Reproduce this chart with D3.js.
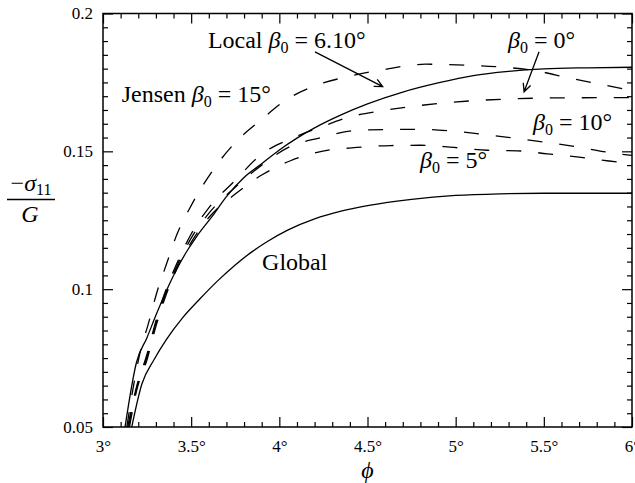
<!DOCTYPE html>
<html>
<head>
<meta charset="utf-8">
<script src="https://cdn.jsdelivr.net/npm/d3@7"></script>
<style>
  html, body { margin: 0; padding: 0; background: #fff; }
  svg { display: block; }
</style>
</head>
<body>
<svg id="chart" width="635" height="483"></svg>
<script>
// Friction angle phi (degrees) against normalised stress -sigma11 / G
const xTicks = [3, 3.5, 4, 4.5, 5, 5.5, 6];
const xTickLabels = ["3°", "3.5°", "4°", "4.5°", "5°", "5.5°", "6°"];
const yTicks = [0.05, 0.1, 0.15, 0.2];
const yTickLabels = ["0.05", "0.1", "0.15", "0.2"];

// Solid curves
const localPhi   = [3.125, 3.19, 3.25, 3.3, 3.36, 3.42, 3.48, 3.53, 3.62, 3.7, 3.8, 3.9, 4.0, 4.1, 4.2, 4.35, 4.5, 4.7, 4.9, 5.1, 5.3, 5.5, 5.75, 6.0];
const localSig   = [0.05, 0.0735, 0.0825, 0.0905, 0.0995, 0.1075, 0.1142, 0.119, 0.1265, 0.1336, 0.1405, 0.1455, 0.1505, 0.1548, 0.1585, 0.1632, 0.1672, 0.1715, 0.1748, 0.1775, 0.1790, 0.1799, 0.1803, 0.1805];
const globalPhi  = [3.163, 3.22, 3.29, 3.36, 3.45, 3.55, 3.65, 3.75, 3.85, 3.93, 4.05, 4.2, 4.35, 4.5, 4.75, 5.0, 5.25, 5.5, 5.75, 6.0];
const globalSig  = [0.05, 0.0655, 0.0745, 0.0818, 0.0895, 0.0965, 0.1030, 0.1088, 0.1138, 0.1172, 0.1215, 0.1255, 0.1283, 0.1303, 0.1326, 0.1340, 0.1346, 0.1348, 0.1348, 0.1348];

// Dashed curves
const jensenPhi  = [3.135, 3.176, 3.21, 3.257, 3.305, 3.36, 3.42, 3.5, 3.616, 3.758, 3.896, 4.04, 4.19, 4.38, 4.58, 4.83, 5.05, 5.25, 5.43, 5.65, 5.83, 6.0];
const jensenSig  = [0.05, 0.066, 0.077, 0.0874, 0.0987, 0.1091, 0.12, 0.1303, 0.1425, 0.1537, 0.1614, 0.1687, 0.1735, 0.177, 0.1795, 0.1816, 0.1813, 0.1806, 0.1795, 0.1765, 0.1742, 0.172];
const beta0Phi   = [3.14, 3.19, 3.25, 3.3, 3.35, 3.42, 3.5, 3.6, 3.75, 3.9, 4.06, 4.24, 4.4, 4.58, 4.91, 5.3, 5.6, 6.0];
const beta0Sig   = [0.05, 0.0645, 0.0765, 0.0885, 0.0985, 0.1095, 0.12, 0.1295, 0.1395, 0.149, 0.1544, 0.1589, 0.1625, 0.1647, 0.1674, 0.169, 0.1694, 0.1695];
const beta10Phi  = [3.145, 3.19, 3.25, 3.3, 3.35, 3.42, 3.5, 3.6, 3.75, 3.9, 4.06, 4.24, 4.42, 4.61, 4.79, 4.97, 5.15, 5.33, 5.52, 5.69, 5.88, 6.0];
const beta10Sig  = [0.05, 0.0638, 0.0755, 0.0875, 0.0975, 0.1085, 0.1185, 0.1275, 0.137, 0.145, 0.1517, 0.155, 0.1575, 0.1579, 0.158, 0.1574, 0.1562, 0.1548, 0.1532, 0.1516, 0.1495, 0.1485];
const beta5Phi   = [3.15, 3.19, 3.25, 3.3, 3.35, 3.42, 3.5, 3.6, 3.75, 3.9, 4.06, 4.24, 4.44, 4.63, 4.8, 4.99, 5.18, 5.35, 5.52, 5.7, 5.87, 6.0];
const beta5Sig   = [0.05, 0.063, 0.0745, 0.0865, 0.0965, 0.1075, 0.117, 0.126, 0.1345, 0.1414, 0.1465, 0.15, 0.1514, 0.1521, 0.1522, 0.1514, 0.1504, 0.1502, 0.1491, 0.1479, 0.1465, 0.1455];

const series = [
  { phi: localPhi,  sig: localSig,  dashed: false },
  { phi: globalPhi, sig: globalSig, dashed: false },
  { phi: jensenPhi, sig: jensenSig, dashed: true },
  { phi: beta0Phi,  sig: beta0Sig,  dashed: true },
  { phi: beta10Phi, sig: beta10Sig, dashed: true },
  { phi: beta5Phi,  sig: beta5Sig,  dashed: true }
];

const FONT = '"Liberation Serif"';
const svg = d3.select("#chart");
const x = d3.scaleLinear().domain([3, 6]).range([103, 632]);
const y = d3.scaleLinear().domain([0.05, 0.2]).range([427, 13.5]);

const minorX = d3.range(30, 61).map(v => v / 10).filter(v => !xTicks.some(t => Math.abs(t - v) < 1e-9));
const minorY = d3.range(10, 41).map(v => v * 0.005).filter(v => !yTicks.some(t => Math.abs(t - v) < 1e-9));

function styleAxis(g) {
  g.select(".domain").remove();
  g.selectAll(".tick line").attr("stroke", "#000").attr("stroke-width", 1.2);
  g.selectAll("text").style("font-family", FONT).attr("font-size", 17).attr("fill", "#000");
}

// Major and minor ticks on all four sides, pointing inward
const yBottom = y(0.05), yTop = y(0.2), xLeft = x(3), xRight = x(6);

svg.append("g").attr("transform", `translate(0,${yBottom})`)
  .call(d3.axisBottom(x).tickValues(xTicks).tickSizeInner(-10).tickSizeOuter(0).tickPadding(13)
    .tickFormat((d, i) => xTickLabels[i]))
  .call(styleAxis);
svg.append("g").attr("transform", `translate(0,${yBottom})`)
  .call(d3.axisBottom(x).tickValues(minorX).tickSizeInner(-5).tickSizeOuter(0).tickFormat(""))
  .call(styleAxis);
svg.append("g").attr("transform", `translate(0,${yTop})`)
  .call(d3.axisTop(x).tickValues(xTicks).tickSizeInner(-10).tickSizeOuter(0).tickFormat(""))
  .call(styleAxis);
svg.append("g").attr("transform", `translate(0,${yTop})`)
  .call(d3.axisTop(x).tickValues(minorX).tickSizeInner(-5).tickSizeOuter(0).tickFormat(""))
  .call(styleAxis);

svg.append("g").attr("transform", `translate(${xLeft},0)`)
  .call(d3.axisLeft(y).tickValues(yTicks).tickSizeInner(-10).tickSizeOuter(0).tickPadding(10)
    .tickFormat((d, i) => yTickLabels[i]))
  .call(styleAxis);
svg.append("g").attr("transform", `translate(${xLeft},0)`)
  .call(d3.axisLeft(y).tickValues(minorY).tickSizeInner(-5).tickSizeOuter(0).tickFormat(""))
  .call(styleAxis);
svg.append("g").attr("transform", `translate(${xRight},0)`)
  .call(d3.axisRight(y).tickValues(yTicks).tickSizeInner(-10).tickSizeOuter(0).tickFormat(""))
  .call(styleAxis);
svg.append("g").attr("transform", `translate(${xRight},0)`)
  .call(d3.axisRight(y).tickValues(minorY).tickSizeInner(-5).tickSizeOuter(0).tickFormat(""))
  .call(styleAxis);

// Plot frame
svg.append("rect")
  .attr("x", xLeft).attr("y", yTop)
  .attr("width", xRight - xLeft).attr("height", yBottom - yTop)
  .attr("fill", "none").attr("stroke", "#000").attr("stroke-width", 1.5);

// Curves
svg.append("clipPath").attr("id", "plotClip")
  .append("rect").attr("x", xLeft).attr("y", yTop).attr("width", xRight - xLeft).attr("height", yBottom - yTop);

const line = d3.line().x(d => x(d[0])).y(d => y(d[1])).curve(d3.curveMonotoneX);
const curves = svg.append("g").attr("clip-path", "url(#plotClip)");
series.forEach(s => {
  curves.append("path")
    .datum(s.phi.map((p, i) => [p, s.sig[i]]))
    .attr("d", line)
    .attr("fill", "none")
    .attr("stroke", "#000")
    .attr("stroke-width", 1.3)
    .attr("stroke-dasharray", s.dashed ? "15,17" : null);
});

// Annotations: beta_0 labels written as "β" with a subscript 0
const ann = svg.append("g");
function addText(g, px, py) {
  return g.append("text").attr("x", px).attr("y", py)
    .style("font-family", FONT).attr("font-size", 24).attr("fill", "#000");
}
function betaLabel(px, py, prefix, rest) {
  const t = addText(ann, x(px), y(py));
  if (prefix) t.append("tspan").text(prefix + " ");
  t.append("tspan").attr("font-style", "italic").text("β");
  t.append("tspan").attr("font-size", 16).attr("dy", 5).text("0");
  t.append("tspan").attr("dy", -5).text(" = " + rest);
  return t;
}
betaLabel(3.595, 0.1875, "Local", "6.10°");
betaLabel(3.106, 0.168, "Jensen", "15°");
betaLabel(5.297, 0.1875, "", "0°");
betaLabel(5.439, 0.1578, "", "10°");
betaLabel(4.798, 0.144, "", "5°");
addText(ann, x(3.902), y(0.107)).text("Global");

// Arrows with open heads
function arrow(x0, y0, x1, y1) {
  const ax = x(x0), ay = y(y0), bx = x(x1), by = y(y1);
  const ang = Math.atan2(by - ay, bx - ax);
  const len = 9, spread = 0.45;
  const p1 = [bx - len * Math.cos(ang - spread), by - len * Math.sin(ang - spread)];
  const p2 = [bx - len * Math.cos(ang + spread), by - len * Math.sin(ang + spread)];
  ann.append("path")
    .attr("d", `M${ax},${ay}L${bx},${by}M${p1[0]},${p1[1]}L${bx},${by}L${p2[0]},${p2[1]}`)
    .attr("fill", "none").attr("stroke", "#000").attr("stroke-width", 1.3);
}
arrow(4.202, 0.1861, 4.586, 0.1735);
arrow(5.473, 0.1861, 5.388, 0.1716);

// Axis titles
const yl = svg.append("g");
const num = addText(yl, 31, 191).attr("text-anchor", "middle");
num.append("tspan").text("−");
num.append("tspan").attr("font-style", "italic").text("σ");
num.append("tspan").attr("font-size", 16).attr("dy", 4).text("11");
yl.append("line").attr("x1", 7).attr("x2", 55).attr("y1", 199.5).attr("y2", 199.5)
  .attr("stroke", "#000").attr("stroke-width", 1.5);
addText(yl, 30, 222).attr("text-anchor", "middle").attr("font-style", "italic").text("G");

addText(svg, (xLeft + xRight) / 2, 478).attr("text-anchor", "middle")
  .attr("font-style", "italic").text("ϕ");
</script>
</body>
</html>
